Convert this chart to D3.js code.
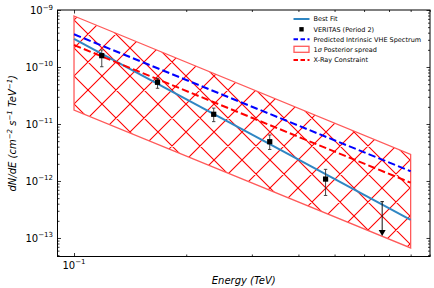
<!DOCTYPE html>
<html>
<head>
<meta charset="utf-8">
<script src="https://cdn.jsdelivr.net/npm/d3@7"></script>
<style>
  body { margin: 0; background: #fff; }
  text { font-family: "DejaVu Sans", sans-serif; fill: #000; }
</style>
</head>
<body>
<div id="chart"></div>
<script>
// spectrum data (TeV, cm^-2 s^-1 TeV^-1)
var lineEnergy = [0.1, 0.8];
var bestFit = [3.10e-10, 2.07e-13];
var intrinsic = [3.75e-10, 1.48e-12];
var xrayConstraint = [2.43e-10, 9.33e-13];
var bandUpper = [7.85e-10, 2.92e-12];
var bandLower = [1.76e-11, 6.68e-14];

var pointEnergy = [0.1187, 0.1675, 0.237, 0.335, 0.473];
var pointFlux = [1.58e-10, 5.39e-11, 1.48e-11, 4.89e-12, 1.08e-12];
var pointLow = [1.01e-10, 4.23e-11, 1.10e-11, 3.57e-12, 5.57e-13];
var pointHigh = [1.99e-10, 6.34e-11, 1.90e-11, 6.41e-12, 1.60e-12];

var limitEnergy = [0.671];
var limitTop = [4.34e-13];
var limitTip = [1.08e-13];

var yMajor = [1e-9, 1e-10, 1e-11, 1e-12, 1e-13];
var yExp = [-9, -10, -11, -12, -13];
var xMajor = [0.1];
var xExp = [-1];

var legendLabels = ["Best Fit", "VERITAS (Period 2)", "Predicted Intrinsic VHE Spectrum",
    "1\u03c3 Posterior spread", "X-Ray Constraint"];

var width = 434, height = 288;
var margin = { top: 10, right: 4, bottom: 31.5, left: 57.5 };
var x0 = margin.left, x1 = width - margin.right;
var y0 = margin.top, y1 = height - margin.bottom;

var svg = d3.select("#chart").append("svg")
    .attr("width", width)
    .attr("height", height);

var xScale = d3.scaleLog().domain([0.0903, 0.9016]).range([x0, x1]);
var yScale = d3.scaleLog().domain([Math.pow(10, -13.325), 1e-9]).range([y1, y0]);

var red = "#ff0000";
var bandEdge = "#ff5a5a";

var bandData = lineEnergy.map(function (e, i) { return { x: e, lo: bandLower[i], hi: bandUpper[i] }; });
var area = d3.area()
    .x(function (d) { return xScale(d.x); })
    .y0(function (d) { return yScale(d.lo); })
    .y1(function (d) { return yScale(d.hi); });

var defs = svg.append("defs");
defs.append("clipPath").attr("id", "plotClip")
    .append("rect").attr("x", x0).attr("y", y0).attr("width", x1 - x0).attr("height", y1 - y0);
defs.append("clipPath").attr("id", "bandClip")
    .append("path").datum(bandData).attr("d", area);

var plot = svg.append("g").attr("clip-path", "url(#plotClip)");

// cross hatch inside the posterior band (45 degree lines, period P)
var P = 28;
var hatch = plot.append("g").attr("clip-path", "url(#bandClip)");
var hatchPath = "";
for (var c = -54 - 20 * P; c < 600; c += P) {
    hatchPath += "M" + x0 + "," + (x0 + c) + "L" + x1 + "," + (x1 + c);
}
for (var c2 = 94 - 20 * P; c2 < 1200; c2 += P) {
    hatchPath += "M" + x0 + "," + (c2 - x0) + "L" + x1 + "," + (c2 - x1);
}
hatch.append("path")
    .attr("d", hatchPath)
    .attr("stroke", red)
    .attr("stroke-width", 1.1)
    .attr("fill", "none");

plot.append("path")
    .datum(bandData)
    .attr("d", area)
    .attr("fill", "none")
    .attr("stroke", bandEdge)
    .attr("stroke-width", 1.3)
    .attr("stroke-linejoin", "miter");

var line = d3.line()
    .x(function (d) { return xScale(d[0]); })
    .y(function (d) { return yScale(d[1]); });

function pairs(vals) {
    return lineEnergy.map(function (e, i) { return [e, vals[i]]; });
}

plot.append("path").datum(pairs(bestFit)).attr("d", line)
    .attr("fill", "none").attr("stroke", "#2f86c3").attr("stroke-width", 2);
plot.append("path").datum(pairs(intrinsic)).attr("d", line)
    .attr("fill", "none").attr("stroke", "#0000ff").attr("stroke-width", 2)
    .attr("stroke-dasharray", "7.4,3.2");
plot.append("path").datum(pairs(xrayConstraint)).attr("d", line)
    .attr("fill", "none").attr("stroke", red).attr("stroke-width", 2)
    .attr("stroke-dasharray", "7.4,3.2");

// VERITAS points with error bars
var errColor = "#333";
pointEnergy.forEach(function (e, i) {
    var px = xScale(e);
    plot.append("line")
        .attr("x1", px).attr("x2", px)
        .attr("y1", yScale(pointLow[i])).attr("y2", yScale(pointHigh[i]))
        .attr("stroke", errColor).attr("stroke-width", 0.9);
    [pointLow[i], pointHigh[i]].forEach(function (v) {
        plot.append("line")
            .attr("x1", px - 1.7).attr("x2", px + 1.7)
            .attr("y1", yScale(v)).attr("y2", yScale(v))
            .attr("stroke", errColor).attr("stroke-width", 0.9);
    });
    plot.append("rect")
        .attr("x", px - 2.6).attr("y", yScale(pointFlux[i]) - 2.6)
        .attr("width", 5.2).attr("height", 5.2)
        .attr("fill", "#000");
});

// upper limit
limitEnergy.forEach(function (e, i) {
    var px = xScale(e);
    var top = yScale(limitTop[i]), tip = yScale(limitTip[i]);
    plot.append("line")
        .attr("x1", px).attr("x2", px).attr("y1", top).attr("y2", tip - 3)
        .attr("stroke", "#111").attr("stroke-width", 1);
    plot.append("line")
        .attr("x1", px - 1.7).attr("x2", px + 1.7).attr("y1", top).attr("y2", top)
        .attr("stroke", "#111").attr("stroke-width", 1);
    plot.append("path")
        .attr("d", "M" + (px - 3.5) + "," + (tip - 6) + "L" + (px + 3.5) + "," + (tip - 6) + "L" + px + "," + tip + "Z")
        .attr("fill", "#000");
});

// axes: inward ticks on all four sides
var yMinor = [];
for (var n = -14; n <= -10; n++) {
    for (var k = 2; k <= 9; k++) {
        var v = k * Math.pow(10, n);
        if (v > yScale.domain()[0] && v < 1e-9) yMinor.push(v);
    }
}
var xMinor = [0.2, 0.3, 0.4, 0.5, 0.6, 0.7, 0.8, 0.9];

function ticks(axisFn, scale, vals, size, tx, ty) {
    var g = svg.append("g").attr("transform", "translate(" + tx + "," + ty + ")")
        .call(axisFn(scale).tickValues(vals).tickSize(-size).tickFormat(""));
    g.select(".domain").remove();
    g.selectAll("line").attr("stroke", "#000").attr("stroke-width", 0.8);
}

ticks(d3.axisLeft, yScale, yMajor, 3.5, x0, 0);
ticks(d3.axisLeft, yScale, yMinor, 2, x0, 0);
ticks(d3.axisRight, yScale, yMajor, 3.5, x1, 0);
ticks(d3.axisRight, yScale, yMinor, 2, x1, 0);
ticks(d3.axisBottom, xScale, xMajor, 3.5, 0, y1);
ticks(d3.axisBottom, xScale, xMinor, 2, 0, y1);
ticks(d3.axisTop, xScale, xMajor, 3.5, 0, y0);
ticks(d3.axisTop, xScale, xMinor, 2, 0, y0);

svg.append("rect")
    .attr("x", x0).attr("y", y0)
    .attr("width", x1 - x0).attr("height", y1 - y0)
    .attr("fill", "none").attr("stroke", "#000").attr("stroke-width", 1);

// tick labels 10^n
function powLabel(sel, exp) {
    sel.append("tspan").text("10");
    sel.append("tspan").attr("dy", -4.5).attr("font-size", 7).text("\u2212" + Math.abs(exp));
}

yMajor.forEach(function (v, i) {
    var t = svg.append("text")
        .attr("x", x0 - 4.5)
        .attr("y", yScale(v) + 4)
        .attr("text-anchor", "end")
        .attr("font-size", 10);
    powLabel(t, yExp[i]);
});

xMajor.forEach(function (v, i) {
    var t = svg.append("text")
        .attr("x", xScale(v))
        .attr("y", y1 + 12)
        .attr("text-anchor", "middle")
        .attr("font-size", 10);
    powLabel(t, xExp[i]);
});

// axis titles
svg.append("text")
    .attr("x", (x0 + x1) / 2)
    .attr("y", 284)
    .attr("text-anchor", "middle")
    .attr("font-size", 10)
    .attr("font-style", "italic")
    .text("Energy (TeV)");

var yl = svg.append("text")
    .attr("transform", "translate(16," + ((y0 + y1) / 2) + ") rotate(-90)")
    .attr("text-anchor", "middle")
    .attr("font-size", 10)
    .attr("font-style", "italic");
yl.append("tspan").text("dN/dE (cm");
yl.append("tspan").attr("dy", -4).attr("font-size", 7).text("\u22122");
yl.append("tspan").attr("dy", 4).text(" s");
yl.append("tspan").attr("dy", -4).attr("font-size", 7).text("\u22121");
yl.append("tspan").attr("dy", 4).text(" TeV");
yl.append("tspan").attr("dy", -4).attr("font-size", 7).text("\u22121");
yl.append("tspan").attr("dy", 4).text(")");

// legend
var legendY = [19, 29.3, 39.3, 49.3, 60];
var lx0 = 293.5, lx1 = 309.5, ltx = 313.5;
var leg = svg.append("g");

leg.append("line").attr("x1", lx0).attr("x2", lx1).attr("y1", legendY[0]).attr("y2", legendY[0])
    .attr("stroke", "#2f86c3").attr("stroke-width", 2);
leg.append("rect").attr("x", (lx0 + lx1) / 2 - 2.2).attr("y", legendY[1] - 2.2)
    .attr("width", 4.4).attr("height", 4.4).attr("fill", "#000");
leg.append("line").attr("x1", lx0).attr("x2", lx1).attr("y1", legendY[2]).attr("y2", legendY[2])
    .attr("stroke", "#0000ff").attr("stroke-width", 2).attr("stroke-dasharray", "4.5,2.5");
leg.append("rect").attr("x", lx0 + 0.5).attr("y", legendY[3] - 3).attr("width", lx1 - lx0 - 1).attr("height", 6)
    .attr("fill", "#fff").attr("stroke", bandEdge).attr("stroke-width", 1.3);
leg.append("line").attr("x1", lx0).attr("x2", lx1).attr("y1", legendY[4]).attr("y2", legendY[4])
    .attr("stroke", red).attr("stroke-width", 2).attr("stroke-dasharray", "4.5,2.5");

legendLabels.forEach(function (lab, i) {
    var t = leg.append("text")
        .attr("x", ltx)
        .attr("y", legendY[i] + 2.3)
        .attr("font-size", 6.5);
    if (i === 3) {
        t.append("tspan").text("1");
        t.append("tspan").attr("font-style", "italic").text("\u03c3");
        t.append("tspan").text(" Posterior spread");
    } else {
        t.text(lab);
    }
});
</script>
</body>
</html>
